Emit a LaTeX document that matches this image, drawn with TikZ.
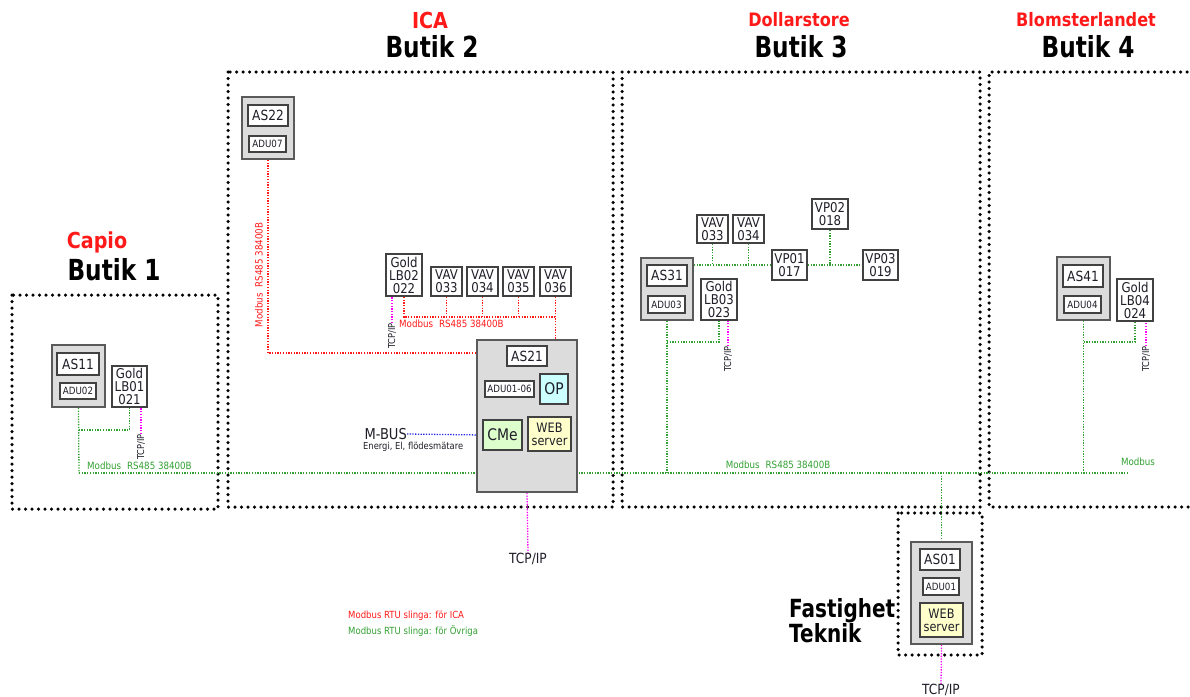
\documentclass[tikz,border=0pt]{standalone}
\usepackage{fontspec}
\setmainfont[FakeStretch=0.87]{DejaVu Sans}
\newfontfamily\tfont[FakeStretch=0.80]{DejaVu Sans}
\usetikzlibrary{calc}
\pgfdeclarelayer{bg}
\pgfsetlayers{bg,main}
\definecolor{rd}{RGB}{255,25,25}
\definecolor{gn}{RGB}{50,160,50}
\definecolor{mg}{RGB}{255,0,255}
\definecolor{bl}{RGB}{40,40,230}
\definecolor{gfill}{RGB}{220,220,220}
\definecolor{gdraw}{RGB}{90,90,90}
\definecolor{bdraw}{RGB}{65,65,65}
\definecolor{txt}{RGB}{30,30,40}
\definecolor{opfill}{RGB}{204,255,255}
\definecolor{cmefill}{RGB}{221,255,204}
\definecolor{webfill}{RGB}{255,255,204}
\newcommand{\fsz}[1]{\fontsize{#1}{#1}\selectfont}
\begin{document}
\begin{tikzpicture}[x=1pt,y=-1pt,
  frame/.style={line width=3.5pt, dash pattern=on 0pt off 6.5pt, line cap=round, black},
  sz/.style 2 args={minimum width=#1pt, minimum height=#2pt},
  grp/.style={draw=gdraw, fill=gfill, line width=1.8pt, inner sep=0pt},
  wb/.style={draw=bdraw, fill=white, line width=1.7pt, inner sep=0pt, align=center, text=txt, font=\fsz{14}},
  sb/.style={wb, font=\fsz{10}},
  lb/.style={wb, font=\fontsize{13.5}{13}\selectfont},
  gline/.style={gn, line width=1.3pt, dash pattern=on 1.3pt off 1.4pt},
  rline/.style={rd, line width=1.3pt, dash pattern=on 1.3pt off 1.4pt},
  mline/.style={mg, line width=1.3pt, dash pattern=on 1.3pt off 1.4pt},
  bline/.style={bl, line width=1.3pt, dash pattern=on 1.3pt off 1.4pt},
  tcpv/.style={rotate=90, inner sep=0pt, text=txt, font=\fsz{9.5}},
  ttl/.style={inner sep=0pt, font=\tfont\fsz{29}\bfseries, text=black},
  sub/.style={inner sep=0pt, font=\fsz{18.5}\bfseries, text=rd},
  gtxt/.style={inner sep=0pt, font=\fsz{10}, text=gn},
  rtxt/.style={inner sep=0pt, font=\fsz{10}, text=rd}
]
\useasboundingbox (0,0) rectangle (1190,696);
\clip (0,0) rectangle (1190,696);

% ---------- titles ----------
\node[sub, font=\fsz{22}\bfseries] (t1a) at (97,242) {Capio};
\node[ttl] (t1b) at (114,270) {Butik 1};
\node[sub, font=\fsz{22}\bfseries] (t2a) at (430,20) {ICA};
\node[ttl] (t2b) at (432,47) {Butik 2};
\node[sub] (t3a) at (799,20) {Dollarstore};
\node[ttl] (t3b) at (801,47) {Butik 3};
\node[sub] (t4a) at (1086,20) {Blomsterlandet};
\node[ttl] (t4b) at (1088,47) {Butik 4};
\node[inner sep=0pt, anchor=west, align=left, font=\tfont\fontsize{25}{25}\bfseries\selectfont] (t5) at (789,621) {Fastighet\\Teknik};

% ---------- Butik 1 ----------
\node[grp, sz={53}{62}] (as11g) at (78.5,376) {};
\node[wb, sz={42}{22}] (as11) at (78,364) {AS11};
\node[sb, sz={36}{16}] (adu02) at (78,391) {ADU02};
\node[lb, sz={35}{41}] (gold1) at (129.5,386.5) {Gold\\LB01\\021};
\node[tcpv] (tcp1) at (141,447) {TCP/IP};
\node[gtxt, anchor=west] (mb1) at (87,466) {Modbus\hspace{0.6em}RS485 38400B};

% ---------- Butik 2 ----------
\node[grp, sz={52}{62}] (as22g) at (268,128) {};
\node[wb, sz={40}{21}] (as22) at (268,115.5) {AS22};
\node[sb, sz={37}{16}] (adu07) at (267.5,144) {ADU07};
\node[rtxt, rotate=90] (mb2v) at (259,275) {Modbus\hspace{0.6em}RS485 38400B};
\node[lb, sz={36}{42}] (gold2) at (404,275) {Gold\\LB02\\022};
\node[lb, sz={31}{29}] (vav1) at (446.5,281.5) {VAV\\033};
\node[lb, sz={31}{29}] (vav2) at (482.5,281.5) {VAV\\034};
\node[lb, sz={31}{29}] (vav3) at (518.5,281.5) {VAV\\035};
\node[lb, sz={31}{29}] (vav4) at (555.5,281.5) {VAV\\036};
\node[tcpv] (tcp2) at (392,336) {TCP/IP};
\node[rtxt, anchor=west] (mb2) at (399,324) {Modbus\hspace{0.6em}RS485 38400B};

\node[grp, sz={100}{152}] (as21g) at (527,416) {};
\node[wb, sz={40}{20}] (as21) at (527,356) {AS21};
\node[sb, sz={49}{16}] (adu0106) at (509.5,389) {ADU01-06};
\node[wb, fill=opfill, sz={28}{30}, font=\fsz{16}] (op) at (554,389) {OP};
\node[wb, fill=cmefill, sz={39}{30}, font=\fsz{16}] (cme) at (502.5,435) {CMe};
\node[wb, fill=webfill, sz={43}{34}, font=\fontsize{13}{13}\selectfont] (web21) at (549.5,434) {WEB\\server};
\node[inner sep=0pt, anchor=east, text=txt, font=\fsz{15}] (mbus) at (407,434) {M-BUS};
\node[inner sep=0pt, anchor=west, text=txt, font=\fsz{9.6}] (energi) at (363,447) {Energi, El, flödesmätare};
\node[inner sep=0pt, text=txt, font=\fsz{14}] (tcp21) at (528,559) {TCP/IP};

\node[inner sep=0pt, anchor=west, text=rd, font=\fsz{9.8}] (leg1) at (348,616) {Modbus RTU slinga: för ICA};
\node[inner sep=0pt, anchor=west, text=gn, font=\fsz{9.8}] (leg2) at (348,631) {Modbus RTU slinga: för Övriga};

% ---------- Butik 3 ----------
\node[grp, sz={52}{62}] (as31g) at (667,289) {};
\node[wb, sz={40}{21}] (as31) at (667,275.5) {AS31};
\node[sb, sz={37}{17}] (adu03) at (666.5,304.5) {ADU03};
\node[lb, sz={36}{41}] (gold3) at (719,299.5) {Gold\\LB03\\023};
\node[lb, sz={31}{28}] (vav5) at (712.5,229) {VAV\\033};
\node[lb, sz={31}{28}] (vav6) at (748.5,229) {VAV\\034};
\node[lb, sz={35}{30}] (vp01) at (789.5,265) {VP01\\017};
\node[lb, sz={36}{30}] (vp02) at (830,214) {VP02\\018};
\node[lb, sz={35}{30}] (vp03) at (880.5,265) {VP03\\019};
\node[tcpv] (tcp3) at (728,359) {TCP/IP};
\node[gtxt] (mb3) at (778,465) {Modbus\hspace{0.6em}RS485 38400B};

% ---------- Butik 4 ----------
\node[grp, sz={53}{63}] (as41g) at (1083.5,288.5) {};
\node[wb, sz={40}{22}] (as41) at (1083,276) {AS41};
\node[sb, sz={37}{17}] (adu04) at (1082.5,304.5) {ADU04};
\node[lb, sz={36}{42}] (gold4) at (1135,300) {Gold\\LB04\\024};
\node[tcpv] (tcp4) at (1146,359) {TCP/IP};
\node[gtxt] (mb4) at (1138,462) {Modbus};

% ---------- Fastighet Teknik ----------
\node[grp, sz={61}{102}] (as01g) at (941.5,593) {};
\node[wb, sz={40}{21}] (as01) at (940,559.5) {AS01};
\node[sb, sz={36}{17}] (adu01) at (941,586.5) {ADU01};
\node[wb, fill=webfill, sz={43}{34}, font=\fontsize{13}{13}\selectfont] (web01) at (941.5,620) {WEB\\server};
\node[inner sep=0pt, text=txt, font=\fsz{14}] (tcp01) at (941,690) {TCP/IP};

\coordinate (busL) at (79,473);
\coordinate (busR) at (1128,473);
\coordinate (y430) at (0,430);
\coordinate (y353) at (0,353);
\coordinate (y317) at (0,317);
\coordinate (y342) at (0,342);

\begin{pgfonlayer}{bg}
% frames
\draw[frame] (12,295) rectangle (218,509);
\draw[frame] (228,72) rectangle (613,507);
\draw[frame] (622,72) rectangle (980,507);
\draw[frame] (1200,72) -- (989,72) -- (989,507) -- (1200,507);
\draw[frame] (898,513) rectangle (982,655);

% green bus
\draw[gline] (busL) -- (busR);
\draw[gline] (as11g.south) -- (busL);
\draw[gline] (as11g.south |- y430) -| (gold1.south);
\draw[mline] (tcp1.east) -- (tcp1.east |- gold1.south);

% Butik 2 red
\draw[rline] (as22g.south) |- (as21g.west |- y353);
\draw[rline] (gold2.south) |- (vav4.south |- y317);
\draw[rline] (vav1.south) -- (vav1.south |- y317);
\draw[rline] (vav2.south) -- (vav2.south |- y317);
\draw[rline] (vav3.south) -- (vav3.south |- y317);
\draw[rline] (vav4.south) -- (vav4.south |- as21g.north);
\draw[mline] (tcp2.east) -- (tcp2.east |- gold2.south);
\draw[bline] (mbus.east) -- (cme.west);
\draw[mline] (as21g.south) -- (tcp21.north);

% Butik 3
\draw[gline] (as31g.east |- vp01.west) -- (vp01.west);
\draw[gline] (vp01.east) -- (vp03.west);
\draw[gline] (vav5.south) -- (vav5.south |- vp01.west);
\draw[gline] (vav6.south) -- (vav6.south |- vp01.west);
\draw[gline] (vp02.south) -- (vp02.south |- vp01.east);
\draw[gline] (as31g.south) -- (as31g.south |- busL);
\draw[gline] (as31g.south |- y342) -| (gold3.south);
\draw[mline] (tcp3.east) -- (tcp3.east |- gold3.south);

% Butik 4
\draw[gline] (as41g.south) -- (as41g.south |- busL);
\draw[gline] (as41g.south |- y342) -| (gold4.south);
\draw[mline] (tcp4.east) -- (tcp4.east |- gold4.south);

% Fastighet
\draw[gline] (as01g.north |- busL) -- (as01g.north);
\draw[mline] (as01g.south) -- (tcp01.north);
\end{pgfonlayer}
\end{tikzpicture}
\end{document}
